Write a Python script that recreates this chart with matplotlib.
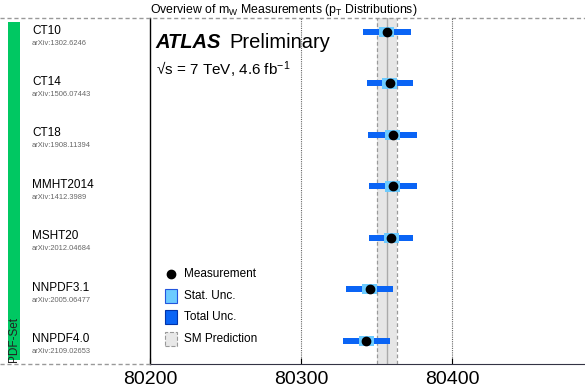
import matplotlib
matplotlib.use("Agg")
import matplotlib.pyplot as plt
import matplotlib.transforms as mtransforms
from matplotlib.patches import Rectangle
from matplotlib.lines import Line2D

plt.rcParams['font.family'] = ['Liberation Sans', 'DejaVu Sans']
plt.rcParams['mathtext.fontset'] = 'custom'
plt.rcParams['mathtext.rm'] = 'Liberation Sans'
plt.rcParams['mathtext.it'] = 'Liberation Sans:italic'

# mW fits with different PDF sets (MeV)
pdf_sets = ['CT10', 'CT14', 'CT18', 'MMHT2014', 'MSHT20', 'NNPDF3.1', 'NNPDF4.0']
arxiv = ['arXiv:1302.6246', 'arXiv:1506.07443', 'arXiv:1908.11394', 'arXiv:1412.3989',
         'arXiv:2012.04684', 'arXiv:2005.06477', 'arXiv:2109.02653']
mw = [80356.8, 80358.8, 80360.8, 80360.8, 80359.8, 80345.6, 80343.2]
stat_unc = [5.0, 5.0, 5.0, 5.0, 5.0, 5.0, 5.0]
tot_unc = [16.0, 15.0, 16.3, 16.0, 14.6, 15.6, 15.5]

sm_mw = 80357.0
sm_unc = 6.5
xticks = [80200, 80300, 80400]

C_TOT = '#0A64F5'
C_STAT = '#6CCBFF'

fig = plt.figure(figsize=(5.85, 3.87), dpi=100)
ax = fig.add_axes([150 / 585, 1 - 364 / 387, 1 - 150 / 585, (364 - 18) / 387])

n = len(pdf_sets)
ypos = [n - 1 - i for i in range(n)]

# SM band
ax.axvspan(sm_mw - sm_unc, sm_mw + sm_unc, color='#E6E6E6', zorder=0, lw=0)
ax.axvline(sm_mw - sm_unc, color='#999999', ls=(0, (3, 2)), lw=0.9, zorder=1)
ax.axvline(sm_mw + sm_unc, color='#999999', ls=(0, (3, 2)), lw=0.9, zorder=1)
ax.axvline(sm_mw, color='#AAAAAA', lw=1.0, zorder=1)

for xv in xticks[1:]:
    ax.axvline(xv, color='#666666', ls=(0, (1, 1)), lw=0.8, zorder=0)

left_tot = [m - t for m, t in zip(mw, tot_unc)]
width_tot = [2 * t for t in tot_unc]
left_stat = [m - s for m, s in zip(mw, stat_unc)]
width_stat = [2 * s for s in stat_unc]
ax.barh(ypos, width_tot, left=left_tot, height=0.12, color=C_TOT, zorder=3)
ax.barh(ypos, width_stat, left=left_stat, height=0.2, color=C_STAT, zorder=4)
ax.plot(mw, ypos, 'o', color='black', ms=6, zorder=5)

ax.set_xlim(80200, 80488)
ax.set_ylim(-0.45, n - 1 + 0.27)
ax.set_yticks([])
ax.set_xticks(xticks)
ax.set_xticklabels([str(v) for v in xticks], fontsize=14)
ax.tick_params(axis='x', direction='in', length=4, pad=5)

for s in ['top', 'right']:
    ax.spines[s].set_visible(False)
ax.spines['left'].set_color('black')
ax.spines['left'].set_linewidth(1.0)
ax.spines['bottom'].set_color('#333344')
ax.spines['bottom'].set_linestyle((0, (2, 1)))
ax.spines['bottom'].set_linewidth(0.8)

# dashed frame lines across the figure
fig.add_artist(Line2D([0, 1], [1 - 18 / 387] * 2, transform=fig.transFigure,
                      color='#999999', ls=(0, (3, 2)), lw=1.0))
fig.add_artist(Line2D([0, 150 / 585], [1 - 364 / 387] * 2, transform=fig.transFigure,
                      color='#999999', ls=(0, (3, 2)), lw=1.0))

fig.text(150 / 585, 1 - 10 / 387,
         r'Overview of m$_\mathrm{W}$ Measurements (p$_\mathrm{T}$ Distributions)',
         fontsize=8.8, va='center', ha='left')

# PDF-set column
fig.add_artist(Rectangle((8 / 585, 1 - 360 / 387), 12 / 585, 338 / 387,
                         transform=fig.transFigure, color='#00C862', lw=0))
fig.text(14 / 585, 1 - 339 / 387, 'PDF-Set', rotation=90, fontsize=8.5,
         color='#222222', ha='center', va='center')

trans = mtransforms.blended_transform_factory(fig.transFigure, ax.transData)
for y, name, ref in zip(ypos, pdf_sets, arxiv):
    ax.annotate(name, (32 / 585, y), xycoords=trans, xytext=(0, 1),
                textcoords='offset points', fontsize=8.5, va='center', ha='left',
                annotation_clip=False)
    ax.annotate(ref, (32 / 585, y), xycoords=trans, xytext=(0, -8),
                textcoords='offset points', fontsize=5.4, color='#666666',
                va='center', ha='left', annotation_clip=False)

# labels inside the plot
ax.text(0.013, 0.93, 'ATLAS', transform=ax.transAxes, fontsize=14.5,
        fontweight='bold', fontstyle='italic', va='center', ha='left')
ax.text(0.183, 0.93, 'Preliminary', transform=ax.transAxes, fontsize=14.5,
        va='center', ha='left')
ax.text(0.013, 0.85, '\u221as = 7 TeV, 4.6 fb$^{-1}$', transform=ax.transAxes,
        fontsize=11, va='center', ha='left')

# legend
lx = 0.048
ax.plot([lx], [0.26], 'o', color='black', ms=6, transform=ax.transAxes, clip_on=False)
ax.text(lx + 0.03, 0.26, 'Measurement', transform=ax.transAxes, fontsize=8.5, va='center')
boxes = [(C_STAT, '#2255DD', '-', 'Stat. Unc.', 0.197),
         (C_TOT, '#0033AA', '-', 'Total Unc.', 0.136),
         ('#E8E8E8', '#999999', '--', 'SM Prediction', 0.073)]
bw, bh = 12 / 435, 14 / 346
for fc, ec, ls, lab, yy in boxes:
    ax.add_patch(Rectangle((lx - bw / 2, yy - bh / 2), bw, bh, transform=ax.transAxes,
                           facecolor=fc, edgecolor=ec, ls=ls, lw=0.8, clip_on=False))
    ax.text(lx + 0.03, yy, lab, transform=ax.transAxes, fontsize=8.5, va='center')

fig.savefig('out.png', dpi=100)
